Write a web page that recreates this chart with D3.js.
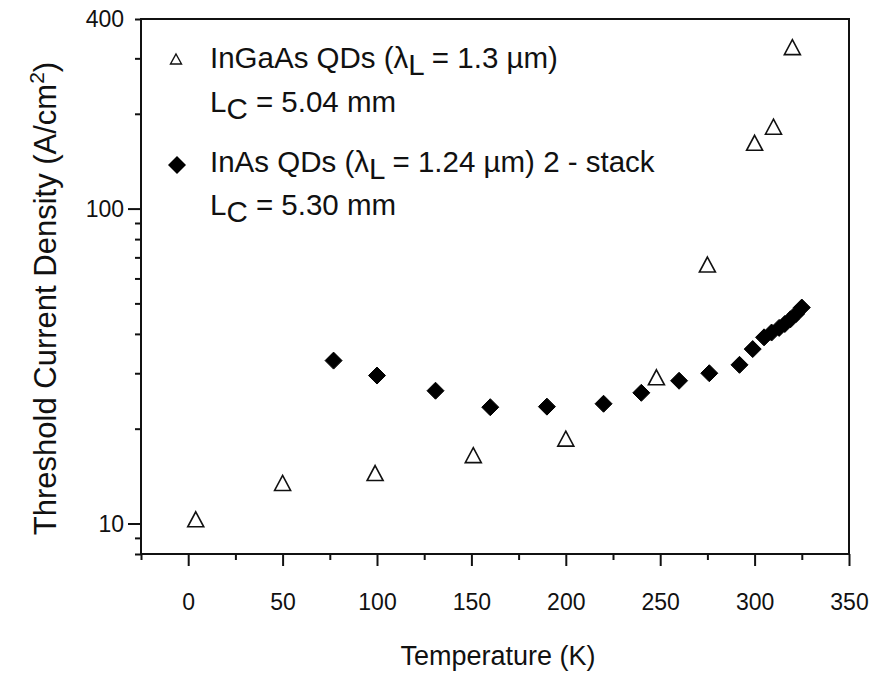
<!DOCTYPE html>
<html>
<head>
<meta charset="utf-8">
<script src="https://cdn.jsdelivr.net/npm/d3@7/dist/d3.min.js"></script>
<style>
  html, body { margin: 0; padding: 0; background: #fff; }
  svg { display: block; }
  text { font-family: "Liberation Sans", Arial, Helvetica, sans-serif; fill: #111; }
</style>
</head>
<body>
<svg id="chart" width="877" height="677"></svg>
<script>
// ---- data ----
const ingaasTemp = [4, 50, 99, 151, 200, 248, 275, 300, 310, 320];
const ingaasJth  = [10.2, 13.3, 14.3, 16.3, 18.4, 28.8, 65.7, 160, 180, 322];

const inasTemp = [77, 100, 131, 160, 190, 220, 240, 260, 276, 292, 299, 305, 309, 313, 316, 319, 322, 325];
const inasJth  = [32.9, 29.5, 26.4, 23.4, 23.5, 24.0, 26.0, 28.4, 30.0, 31.9, 35.8, 39.0, 40.4, 41.8, 43.0, 44.5, 46.3, 48.5];

const xTicksMajor = [0, 50, 100, 150, 200, 250, 300, 350];
const xTicksMinor = [-25, 25, 75, 125, 175, 225, 275, 325];
const yTicksLabeled = [10, 100, 400];
const yTicksMajor = [10, 100];
const yTicksMinor = [8, 9, 20, 30, 40, 50, 60, 70, 80, 90, 200, 300, 400];

const xDomain = [-25, 350];
const yDomain = [8, 400];

// ---- layout ----
const svg = d3.select("#chart");
const L = 141, R = 849, T = 19, B = 554;

const x = d3.scaleLinear().domain(xDomain).range([L, R]);
const y = d3.scaleLog().domain(yDomain).range([B, T]);

// x axis ticks
const gx = svg.append("g").attr("transform", `translate(0,${B})`);
gx.call(d3.axisBottom(x).tickValues(xTicksMajor).tickSize(12).tickFormat(d3.format("d")).tickPadding(28))
  .call(g => g.select(".domain").remove())
  .call(g => g.selectAll(".tick line").attr("stroke", "#111").attr("stroke-width", 2))
  .call(g => g.selectAll(".tick text").attr("font-size", 23).attr("fill", "#111")
        .attr("font-family", "Liberation Sans, Arial, sans-serif"));
const gx2 = svg.append("g").attr("transform", `translate(0,${B})`);
gx2.call(d3.axisBottom(x).tickValues(xTicksMinor).tickSize(6).tickFormat(""))
  .call(g => g.select(".domain").remove())
  .call(g => g.selectAll(".tick line").attr("stroke", "#111").attr("stroke-width", 2));

// y axis ticks
const gy = svg.append("g").attr("transform", `translate(${L},0)`);
gy.call(d3.axisLeft(y).tickValues(yTicksMajor).tickSize(13).tickFormat(""))
  .call(g => g.select(".domain").remove())
  .call(g => g.selectAll(".tick line").attr("stroke", "#111").attr("stroke-width", 2));
const gy2 = svg.append("g").attr("transform", `translate(${L},0)`);
gy2.call(d3.axisLeft(y).tickValues(yTicksMinor).tickSize(6).tickFormat(""))
  .call(g => g.select(".domain").remove())
  .call(g => g.selectAll(".tick line").attr("stroke", "#111").attr("stroke-width", 2));

// y tick labels
svg.append("g").selectAll("text").data(yTicksLabeled).join("text")
  .attr("x", 124).attr("y", d => y(d))
  .attr("dy", "0.35em").attr("text-anchor", "end")
  .attr("font-size", 23)
  .text(d => d);

// frame
svg.append("rect").attr("x", L).attr("y", T).attr("width", R - L).attr("height", B - T)
  .attr("fill", "none").attr("stroke", "#111").attr("stroke-width", 2);

// axis titles
svg.append("text").attr("x", (L + R) / 2 + 3).attr("y", 665)
  .attr("text-anchor", "middle").attr("font-size", 27)
  .text("Temperature (K)");

const yl = svg.append("text")
  .attr("transform", `translate(56,${(T + B) / 2 + 12}) rotate(-90)`)
  .attr("text-anchor", "middle").attr("font-size", 31);
yl.append("tspan").text("Threshold Current Density (A/cm");
yl.append("tspan").attr("font-size", 21).attr("dy", -12).text("2");
yl.append("tspan").attr("dy", 12).text(")");

// markers
const triPath = "M0,-9L8,6L-8,6Z";
const diaPath = "M0,-8.5L8.5,0L0,8.5L-8.5,0Z";

svg.append("g").selectAll("path").data(d3.range(ingaasTemp.length)).join("path")
  .attr("d", triPath)
  .attr("transform", i => `translate(${x(ingaasTemp[i])},${y(ingaasJth[i])})`)
  .attr("fill", "#fff").attr("stroke", "#111").attr("stroke-width", 1.6);

svg.append("g").selectAll("path").data(d3.range(inasTemp.length)).join("path")
  .attr("d", diaPath)
  .attr("transform", i => `translate(${x(inasTemp[i])},${y(inasJth[i])})`)
  .attr("fill", "#000").attr("stroke", "#000").attr("stroke-width", 1);

// legend
const lg = svg.append("g");
lg.append("path").attr("d", "M0,-6L5.5,4L-5.5,4Z").attr("transform", "translate(176,60)")
  .attr("fill", "#fff").attr("stroke", "#111").attr("stroke-width", 1.4);
lg.append("path").attr("d", "M0,-9L9,0L0,9L-9,0Z").attr("transform", "translate(177,165)")
  .attr("fill", "#000");

function legendLine(yb, parts) {
  const t = lg.append("text").attr("x", 210).attr("y", yb).attr("font-size", 29.5);
  parts.forEach(p => {
    const s = t.append("tspan").text(p.t);
    if (p.sub) s.attr("dy", 7);
    if (p.up) s.attr("dy", -7);
  });
}
legendLine(68, [{t: "InGaAs QDs (λ"}, {t: "L", sub: true}, {t: " = 1.3 µm)", up: true}]);
legendLine(112, [{t: "L"}, {t: "C", sub: true}, {t: " = 5.04 mm", up: true}]);
legendLine(172, [{t: "InAs QDs (λ"}, {t: "L", sub: true}, {t: " = 1.24 µm) 2 - stack", up: true}]);
legendLine(215, [{t: "L"}, {t: "C", sub: true}, {t: " = 5.30 mm", up: true}]);
</script>
</body>
</html>
